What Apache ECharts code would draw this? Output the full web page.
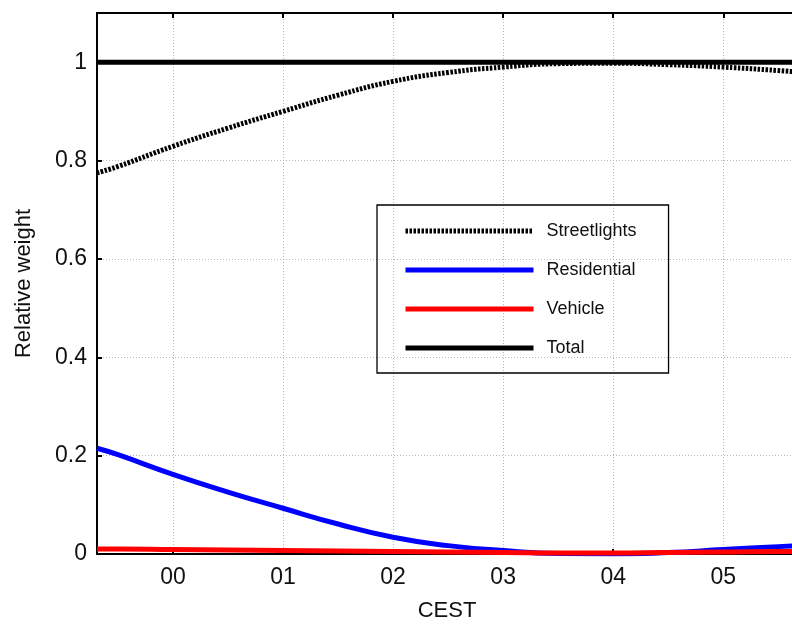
<!DOCTYPE html>
<html>
<head>
<meta charset="utf-8">
<script src="https://cdn.jsdelivr.net/npm/echarts@6/dist/echarts.min.js"></script>
<style>
  html, body { margin: 0; padding: 0; background: #fff; }
  #chart { width: 792px; height: 624px; }
</style>
</head>
<body>
<div id="chart"></div>
<script>
// hours relative to 00 CEST
const hours = [-0.69, -0.5, 0, 0.5, 1, 1.5, 2, 2.5, 3, 3.5, 4, 4.5, 5, 5.5, 5.67]
const streetlights = [0.775, 0.788, 0.829, 0.866, 0.900, 0.933, 0.961, 0.979, 0.990, 0.997, 0.998, 0.995, 0.990, 0.983, 0.980]
const residential = [0.215, 0.202, 0.162, 0.126, 0.093, 0.061, 0.034, 0.017, 0.007, 0.001, 0.000, 0.003, 0.009, 0.015, 0.017]
const vehicle = [0.010, 0.010, 0.009, 0.008, 0.007, 0.006, 0.005, 0.004, 0.003, 0.002, 0.002, 0.003, 0.004, 0.005, 0.005]
const total = [1, 1, 1, 1, 1, 1, 1, 1, 1, 1, 1, 1, 1, 1, 1]

const xTicks = [0, 1, 2, 3, 4, 5]
const yTicks = [0, 0.2, 0.4, 0.6, 0.8, 1]

const pairs = vals => hours.map((h, i) => [h, vals[i]])

const font = 'Liberation Sans, Arial, sans-serif'
const chart = echarts.init(document.getElementById('chart'))

const gridLine = {
  show: true,
  lineStyle: { color: '#b8b8b8', type: [1, 2], width: 1 }
}

chart.setOption({
  animation: false,
  backgroundColor: '#fff',
  grid: { left: 97, top: 13, right: -5, bottom: 70, outerBoundsMode: 'none', containLabel: false },
  legend: {
    orient: 'vertical',
    left: 377,
    top: 205,
    padding: [17, 32, 16, 26],
    borderColor: '#000',
    borderWidth: 1.3,
    itemWidth: 128,
    itemHeight: 14,
    itemGap: 21,
    itemStyle: { opacity: 0 },
    lineStyle: { width: 5 },
    textStyle: { fontFamily: font, fontSize: 18, color: '#111', padding: [0, 0, 0, 8] },
    data: ['Streetlights', 'Residential', 'Vehicle', 'Total']
  },
  xAxis: [{
    type: 'value',
    min: -0.69,
    max: 5.67,
    name: 'CEST',
    nameLocation: 'middle',
    nameGap: 46,
    nameTextStyle: { fontFamily: font, fontSize: 22, color: '#111' },
    axisLine: { show: true, onZero: false, lineStyle: { color: '#000', width: 2 } },
    axisTick: { show: true, inside: true, length: 5, customValues: xTicks, lineStyle: { color: '#000', width: 2 } },
    axisLabel: {
      customValues: xTicks,
      margin: 12,
      fontFamily: font, fontSize: 23, color: '#111',
      formatter: v => String(v).padStart(2, '0')
    },
    splitLine: gridLine
  }, {
    type: 'value',
    position: 'top',
    min: -0.69,
    max: 5.67,
    axisLine: { show: true, onZero: false, lineStyle: { color: '#000', width: 2 } },
    axisTick: { show: true, inside: true, length: 5, customValues: xTicks, lineStyle: { color: '#000', width: 2 } },
    axisLabel: { show: false },
    splitLine: { show: false }
  }],
  yAxis: {
    type: 'value',
    min: 0,
    max: 1.1,
    name: 'Relative weight',
    nameLocation: 'middle',
    nameGap: 62,
    nameTextStyle: { fontFamily: font, fontSize: 22, color: '#111' },
    axisLine: { show: true, onZero: false, lineStyle: { color: '#000', width: 2 } },
    axisTick: { show: true, inside: true, length: 5, customValues: yTicks, lineStyle: { color: '#000', width: 2 } },
    axisLabel: { customValues: yTicks, margin: 10, fontFamily: font, fontSize: 23, color: '#111' },
    splitLine: gridLine
  },
  series: [
    {
      name: 'Streetlights', type: 'line', smooth: true, symbol: 'none',
      data: pairs(streetlights),
      lineStyle: { color: '#000', width: 5, type: [2.5, 1.5] },
      itemStyle: { color: '#000' }
    },
    {
      name: 'Residential', type: 'line', smooth: true, symbol: 'none',
      data: pairs(residential),
      lineStyle: { color: '#0000ff', width: 5 },
      itemStyle: { color: '#0000ff' }
    },
    {
      name: 'Vehicle', type: 'line', smooth: true, symbol: 'none',
      data: pairs(vehicle),
      lineStyle: { color: '#ff0000', width: 5 },
      itemStyle: { color: '#ff0000' }
    },
    {
      name: 'Total', type: 'line', smooth: true, symbol: 'none',
      data: pairs(total),
      lineStyle: { color: '#000', width: 5 },
      itemStyle: { color: '#000' }
    }
  ]
})
</script>
</body>
</html>
